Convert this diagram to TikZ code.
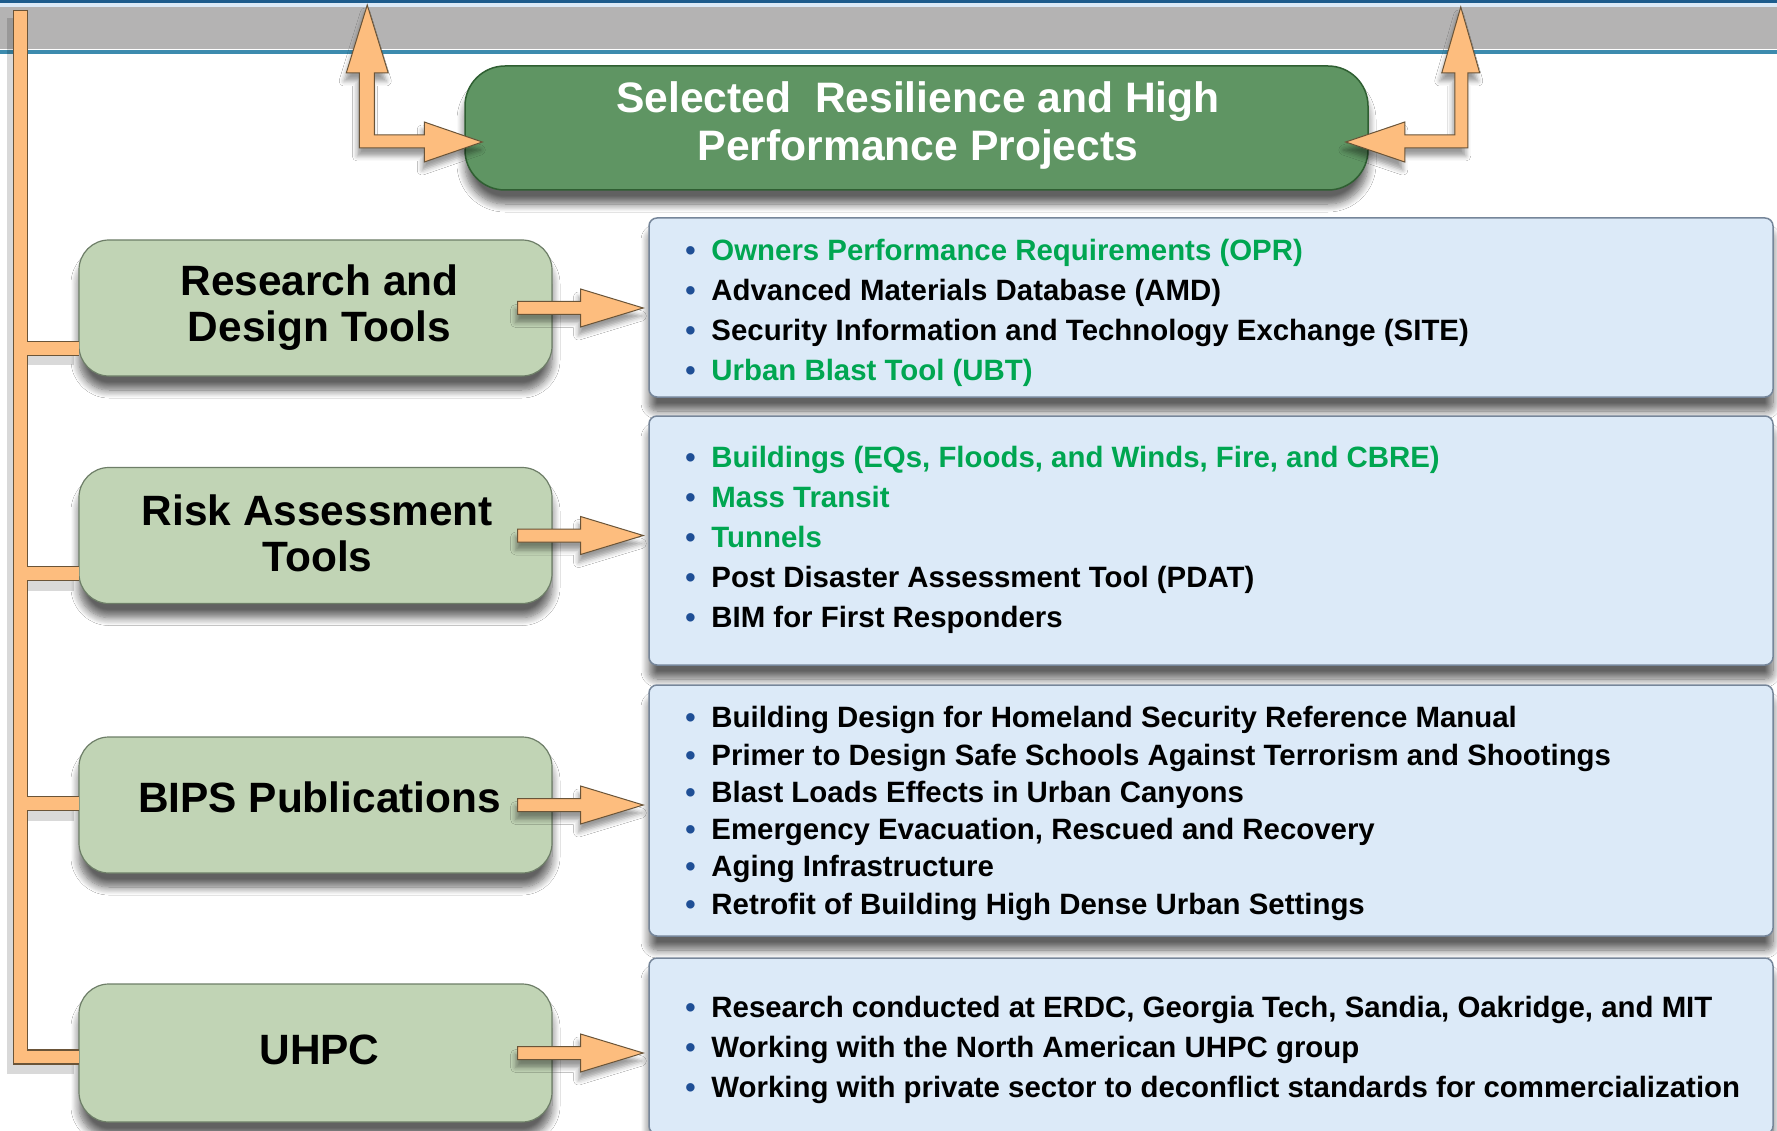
\documentclass[tikz,border=0pt]{standalone}
\usepackage{fontspec}
\setmainfont{Liberation Sans}
\usetikzlibrary{calc,shadows.blur}
\definecolor{titlefill}{HTML}{5F9563}
\definecolor{titledraw}{HTML}{2F5F32}
\definecolor{catfill}{HTML}{C1D4B5}
\definecolor{catdraw}{HTML}{6E7E68}
\definecolor{listfill}{HTML}{DCEAF8}
\definecolor{listdraw}{HTML}{76869A}
\definecolor{arrowfill}{HTML}{FDBD7E}
\definecolor{arrowdraw}{HTML}{6A5438}
\definecolor{textgreen}{HTML}{00A651}
\definecolor{bulletblue}{HTML}{1F4F96}
\definecolor{topblue}{HTML}{1D5C8D}
\definecolor{bandgray}{HTML}{B4B3B3}
\definecolor{bandline}{HTML}{3D8BAE}
\newcommand{\bul}{\makebox[26pt][l]{\textcolor{bulletblue}{\textbullet}}}
\newcommand{\gr}[1]{\textcolor{textgreen}{#1}}
\begin{document}
\begin{tikzpicture}[x=1pt,y=-1pt,
  softshadow/.style={blur shadow={shadow xshift=0pt,shadow yshift=-14pt,shadow blur radius=8pt,shadow blur steps=10,shadow opacity=62}},
  titlebox/.style={draw=titledraw,line width=1.5pt,fill=titlefill,rounded corners=40pt,minimum width=903pt,minimum height=124pt,softshadow},
  titletext/.style={align=center,text=white,inner sep=0pt,font=\fontsize{42.6}{48}\selectfont\bfseries},
  catbox/.style={draw=catdraw,line width=1.2pt,fill=catfill,rounded corners=30pt,minimum width=473pt,minimum height=136pt,softshadow},
  cattext/.style={align=center,inner sep=0pt,font=\fontsize{42.4}{46}\selectfont\bfseries},
  listbox/.style={draw=listdraw,line width=1.5pt,fill=listfill,rounded corners=8pt,minimum width=1124pt,softshadow},
  listtext/.style={anchor=west,align=left,inner sep=0pt,font=\fontsize{29.4}{40}\selectfont\bfseries},
  fatarrow/.style={fill=arrowfill,draw=arrowdraw,line width=1pt,line join=miter,blur shadow={shadow xshift=-2pt,shadow yshift=-8pt,shadow blur radius=5pt,shadow opacity=40}},
  treeshadow/.style={draw=black,opacity=.15,line width=18pt,transform canvas={shift={(-5pt,-8pt)}}},
  treeout/.style={draw=arrowdraw,line width=15.5pt},
  treein/.style={draw=arrowfill,line width=12.5pt}]
\clip (0,0) rectangle (1777,1131);
\fill[white] (0,0) rectangle (1777,1131);
% top band
\fill[topblue] (0,0) rectangle (1777,3.5);
\fill[listfill] (0,3.5) rectangle (1777,7);
\fill[bandgray] (0,7) rectangle (1777,49);
\fill[bandline] (0,50.5) rectangle (1777,54);
% title
\node[titlebox] (title) at (916.5,128) {};
\node[titletext] (titlet) at (918,125) {Selected~ Resilience and High\\Performance Projects};
% category boxes
\node[catbox] (r1) at (315.5,308) {};
\node[catbox] (r2) at (315.5,535.5) {};
\node[catbox] (r3) at (315.5,805) {};
\node[catbox,minimum height=138pt] (r4) at (315.5,1053) {};
\node[cattext] (c1) at ($(r1.center)+(4,0)$) {Research and\\Design Tools};
\node[cattext] (c2) at ($(r2.center)+(2,-2)$) {Risk Assessment\\Tools};
\node[cattext] (c3) at ($(r3.center)+(4,-8)$) {BIPS Publications};
\node[cattext] (c4) at ($(r4.center)+(4,-3)$) {UHPC};
% list boxes
\node[listbox,minimum height=179pt] (b1) at (1211,307.5) {};
\node[listbox,minimum height=249pt] (b2) at (1211,540.5) {};
\node[listbox,minimum height=251pt] (b3) at (1211,810.5) {};
\node[listbox,minimum height=176pt] (b4) at (1211,1046) {};
\node[listtext] (t1) at ($(b1.west)+(37,5.5)$) {\bul\gr{Owners Performance Requirements (OPR)}\\
\bul Advanced Materials Database (AMD)\\
\bul Security Information and Technology Exchange (SITE)\\
\bul\gr{Urban Blast Tool (UBT)}};
\node[listtext] (t2) at ($(b2.west)+(37,-1)$) {\bul\gr{Buildings (EQs, Floods, and Winds, Fire, and CBRE)}\\
\bul\gr{Mass Transit}\\
\bul\gr{Tunnels}\\
\bul Post Disaster Assessment Tool (PDAT)\\
\bul BIM for First Responders};
\node[listtext,font=\fontsize{29.4}{37.3}\selectfont\bfseries] (t3) at ($(b3.west)+(37,3)$) {\bul Building Design for Homeland Security Reference Manual\\
\bul Primer to Design Safe Schools Against Terrorism and Shootings\\
\bul Blast Loads Effects in Urban Canyons\\
\bul Emergency Evacuation, Rescued and Recovery\\
\bul Aging Infrastructure\\
\bul Retrofit of Building High Dense Urban Settings};
\node[listtext] (t4) at ($(b4.west)+(37,3.5)$) {\bul Research conducted at ERDC, Georgia Tech, Sandia, Oakridge, and MIT\\
\bul Working with the North American UHPC group\\
\bul Working with private sector to deconflict standards for commercialization};
% tree
\coordinate (bartop) at (20.5,10);
\foreach \st/\s in {treeshadow/0,treeout/0,treein/1.5}{
  \draw[\st] ($(bartop)+(0,\s)$) |- ($(r4.west)+(1,4)$)
    ($(bartop|-r1.west)+(0,40.5)$) -- ($(r1.west)+(1,40.5)$)
    ($(bartop|-r2.west)+(0,38)$) -- ($(r2.west)+(1,38)$)
    ($(bartop|-r3.west)+(0,-1.5)$) -- ($(r3.west)+(1,-1.5)$);
}
% arrows from categories to lists
\foreach \c/\b in {r1/b1,r2/b2,r3/b3,r4/b4}{
  \draw[fatarrow] let \p1=(\c.east), \p2=(\b.west) in
    (\x1-35pt,\y1+6.5pt) -- (\x1+28pt,\y1+6.5pt) -- (\x1+28pt,\y1+19pt) -- (\x2-5pt,\y1)
    -- (\x1+28pt,\y1-19pt) -- (\x1+28pt,\y1-6.5pt) -- (\x1-35pt,\y1-6.5pt) -- cycle;
}
% top L arrows
\draw[fatarrow,shift={(title.west)}] (-105,20) -- (-105,-55) -- (-118,-55) -- (-97,-123) -- (-76,-55)
  -- (-90,-55) -- (-90,7) -- (-40,7) -- (-40,-6) -- (18,14) -- (-40,34) -- (-40,20) -- cycle;
\draw[fatarrow,shift={(title.east)}] (99,20) -- (99,-55) -- (111,-55) -- (92,-121) -- (73,-55)
  -- (86,-55) -- (86,7) -- (36,7) -- (36,-6) -- (-23,14) -- (36,34) -- (36,20) -- cycle;
\end{tikzpicture}
\end{document}
